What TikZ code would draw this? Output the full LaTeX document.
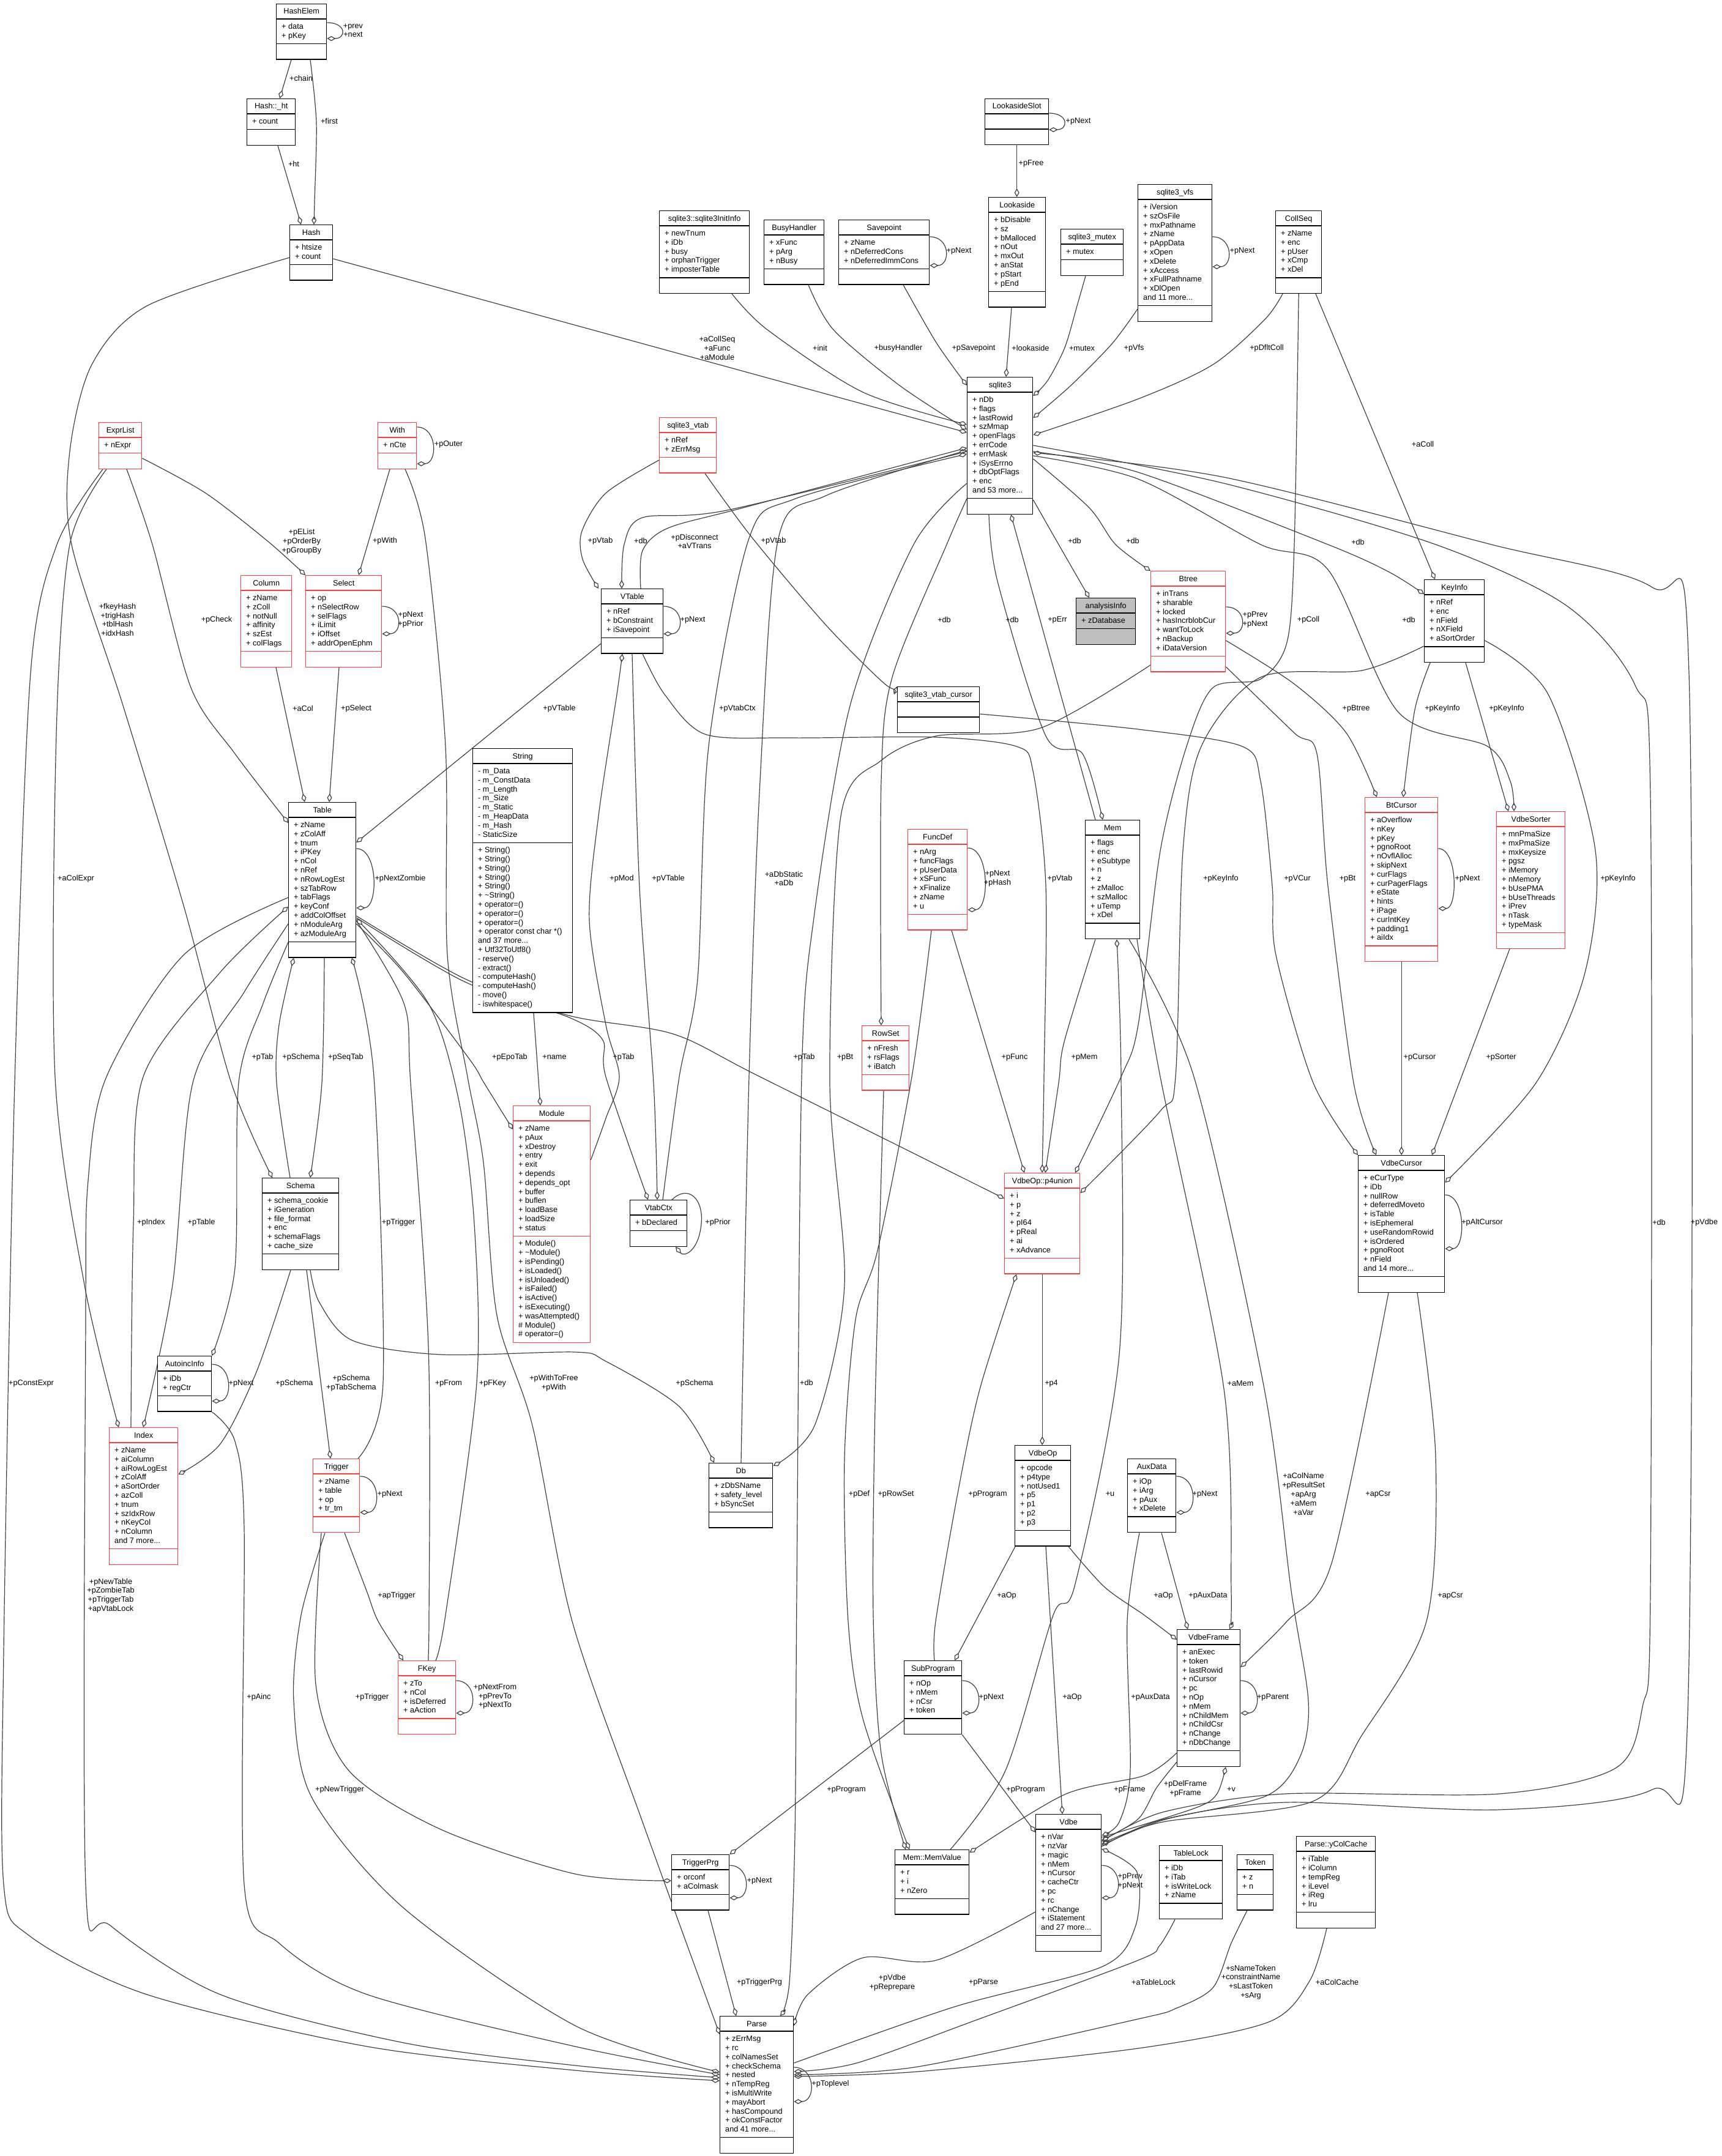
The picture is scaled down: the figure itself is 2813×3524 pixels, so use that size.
\documentclass[tikz,border=0pt]{standalone}
\usepackage{fontspec}
\setmainfont{Liberation Sans}
\usetikzlibrary{arrows.meta}

\definecolor{clsred}{RGB}{255,60,60}
\definecolor{edgecol}{RGB}{64,64,64}
\definecolor{infogray}{RGB}{191,191,191}
\newcommand{\fsz}{\fontsize{12.7}{14.8}\selectfont}

\pgfdeclarelayer{back}
\pgfdeclarelayer{edges}
\pgfsetlayers{back,edges,main}

\tikzset{
  classbox/.style={draw=black, line width=1.4pt, inner sep=0pt, fill=white},
  redbox/.style={draw=clsred, line width=1.4pt, inner sep=0pt, fill=white},
  greybox/.style={draw=black, line width=1.4pt, inner sep=0pt, fill=infogray},
  members/.style={align=left, inner sep=0pt, font=\fsz},
  lbl/.style={font=\fsz, align=center, inner sep=0pt},
  agg/.style={draw=edgecol, line width=1.2pt, -{Diamond[open, length=14pt, width=8pt]}},
}

% class box: [style]{name}{left}{top}{width}{title}{rows}{members}
\newcommand{\umlclass}[8][classbox]{%
  \pgfmathsetmacro{\attrh}{max(#7*14.8+10.8,25)}%
  \node[#1, anchor=north west, minimum width=#5pt, minimum height=50pt+\attrh pt] (#2) at (#3,#4) {};
  \draw[#1] ([yshift=-25pt]#2.north west) -- ([yshift=-25pt]#2.north east)
    ([yshift=-25pt-\attrh pt]#2.north west) -- ([yshift=-25pt-\attrh pt]#2.north east);
  \node[lbl, anchor=base] at ([yshift=-17pt]#2.north) {#6};
  \node[members, anchor=north west] at ([xshift=9pt,yshift=-31pt]#2.north west) {\strut #8};
}

\begin{document}
\begin{tikzpicture}[x=1pt,y=-1pt]
\useasboundingbox (0,0) rectangle (2813,3524);
\begin{pgfonlayer}{back}
  \fill[white] (0,0) rectangle (2813,3524);
\end{pgfonlayer}

% classes
\umlclass{hashelem}{451}{6}{82}{HashElem}{2}{+ data\\+ pKey}
\umlclass{hashht}{403}{161}{79}{Hash::\_ht}{1}{+ count}
\umlclass{hash}{473}{367}{70}{Hash}{2}{+ htsize\\+ count}
\umlclass[redbox]{exprlist}{161}{690}{70}{ExprList}{1}{+ nExpr}
\umlclass[redbox]{with}{617}{690}{63}{With}{1}{+ nCte}
\umlclass{initinfo}{1077}{344}{147}{sqlite3::sqlite3InitInfo}{5}{+ newTnum\\+ iDb\\+ busy\\+ orphanTrigger\\+ imposterTable}
\umlclass{busy}{1248}{359}{98}{BusyHandler}{3}{+ xFunc\\+ pArg\\+ nBusy}
\umlclass{savepoint}{1370}{359}{148}{Savepoint}{3}{+ zName\\+ nDeferredCons\\+ nDeferredImmCons}
\umlclass{lookslot}{1609}{161}{104}{LookasideSlot}{0}{}
\umlclass{lookaside}{1615}{322}{93}{Lookaside}{8}{+ bDisable\\+ sz\\+ bMalloced\\+ nOut\\+ mxOut\\+ anStat\\+ pStart\\+ pEnd}
\umlclass{mutex}{1733}{374}{102}{sqlite3\_mutex}{1}{+ mutex}
\umlclass{vfs}{1859}{301}{121}{sqlite3\_vfs}{11}{+ iVersion\\+ szOsFile\\+ mxPathname\\+ zName\\+ pAppData\\+ xOpen\\+ xDelete\\+ xAccess\\+ xFullPathname\\+ xDlOpen\\and 11 more...}
\umlclass{collseq}{2084}{344}{75}{CollSeq}{5}{+ zName\\+ enc\\+ pUser\\+ xCmp\\+ xDel}
\umlclass{sqlite3}{1580}{616}{107}{sqlite3}{11}{+ nDb\\+ flags\\+ lastRowid\\+ szMmap\\+ openFlags\\+ errCode\\+ errMask\\+ iSysErrno\\+ dbOptFlags\\+ enc\\and 53 more...}
\umlclass[redbox]{vtab}{1077}{682}{93}{sqlite3\_vtab}{2}{+ nRef\\+ zErrMsg}
\umlclass[redbox]{column}{393}{940}{83}{Column}{6}{+ zName\\+ zColl\\+ notNull\\+ affinity\\+ szEst\\+ colFlags}
\umlclass[redbox]{select}{499}{940}{124}{Select}{6}{+ op\\+ nSelectRow\\+ selFlags\\+ iLimit\\+ iOffset\\+ addrOpenEphm}
\umlclass{table}{471}{1311}{110}{Table}{13}{+ zName\\+ zColAff\\+ tnum\\+ iPKey\\+ nCol\\+ nRef\\+ nRowLogEst\\+ szTabRow\\+ tabFlags\\+ keyConf\\+ addColOffset\\+ nModuleArg\\+ azModuleArg}
\umlclass{vtable}{982}{962}{101}{VTable}{3}{+ nRef\\+ bConstraint\\+ iSavepoint}
\umlclass[greybox]{analysis}{1758}{977}{97}{analysisInfo}{1}{+ zDatabase}
\umlclass{vcursor}{1466}{1122}{134}{sqlite3\_vtab\_cursor}{0}{}
\umlclass[redbox]{funcdef}{1483}{1355}{97}{FuncDef}{7}{+ nArg\\+ funcFlags\\+ pUserData\\+ xSFunc\\+ xFinalize\\+ zName\\+ u}
\umlclass{mem}{1773}{1340}{89}{Mem}{9}{+ flags\\+ enc\\+ eSubtype\\+ n\\+ z\\+ zMalloc\\+ szMalloc\\+ uTemp\\+ xDel}
\umlclass[redbox]{rowset}{1408}{1676}{77}{RowSet}{3}{+ nFresh\\+ rsFlags\\+ iBatch}
\umlclass[redbox]{btree}{1880}{933}{122}{Btree}{7}{+ inTrans\\+ sharable\\+ locked\\+ hasIncrblobCur\\+ wantToLock\\+ nBackup\\+ iDataVersion}
\umlclass{keyinfo}{2327}{947}{98}{KeyInfo}{5}{+ nRef\\+ enc\\+ nField\\+ nXField\\+ aSortOrder}
\umlclass[redbox]{btcursor}{2230}{1303}{119}{BtCursor}{14}{+ aOverflow\\+ nKey\\+ pKey\\+ pgnoRoot\\+ nOvflAlloc\\+ skipNext\\+ curFlags\\+ curPagerFlags\\+ eState\\+ hints\\+ iPage\\+ curIntKey\\+ padding1\\+ aiIdx}
\umlclass[redbox]{sorter}{2445}{1326}{112}{VdbeSorter}{11}{+ mnPmaSize\\+ mxPmaSize\\+ mxKeysize\\+ pgsz\\+ iMemory\\+ nMemory\\+ bUsePMA\\+ bUseThreads\\+ iPrev\\+ nTask\\+ typeMask}
\umlclass{schema}{428}{1925}{125}{Schema}{6}{+ schema\_cookie\\+ iGeneration\\+ file\_format\\+ enc\\+ schemaFlags\\+ cache\_size}
\umlclass{autoinc}{257}{2216}{88}{AutoincInfo}{2}{+ iDb\\+ regCtr}
\umlclass[redbox]{index}{178}{2333}{112}{Index}{11}{+ zName\\+ aiColumn\\+ aiRowLogEst\\+ zColAff\\+ aSortOrder\\+ azColl\\+ tnum\\+ szIdxRow\\+ nKeyCol\\+ nColumn\\and 7 more...}
\umlclass[redbox]{trigger}{511}{2384}{76}{Trigger}{4}{+ zName\\+ table\\+ op\\+ tr\_tm}
\umlclass{vtabctx}{1029}{1961}{93}{VtabCtx}{1}{+ bDeclared}
\umlclass[redbox]{p4union}{1641}{1917}{123}{VdbeOp::p4union}{7}{+ i\\+ p\\+ z\\+ pI64\\+ pReal\\+ ai\\+ xAdvance}
\umlclass{db}{1158}{2391}{104}{Db}{3}{+ zDbSName\\+ safety\_level\\+ bSyncSet}
\umlclass{vdbeop}{1658}{2362}{91}{VdbeOp}{7}{+ opcode\\+ p4type\\+ notUsed1\\+ p5\\+ p1\\+ p2\\+ p3}
\umlclass{auxdata}{1842}{2384}{79}{AuxData}{4}{+ iOp\\+ iArg\\+ pAux\\+ xDelete}
\umlclass{vdbecursor}{2219}{1888}{141}{VdbeCursor}{11}{+ eCurType\\+ iDb\\+ nullRow\\+ deferredMoveto\\+ isTable\\+ isEphemeral\\+ useRandomRowid\\+ isOrdered\\+ pgnoRoot\\+ nField\\and 14 more...}
\umlclass[redbox]{fkey}{650}{2714}{94}{FKey}{4}{+ zTo\\+ nCol\\+ isDeferred\\+ aAction}
\umlclass{subprogram}{1477}{2714}{94}{SubProgram}{4}{+ nOp\\+ nMem\\+ nCsr\\+ token}
\umlclass{triggerprg}{1097}{3031}{94}{TriggerPrg}{2}{+ orconf\\+ aColmask}
\umlclass{memvalue}{1462}{3023}{121}{Mem::MemValue}{3}{+ r\\+ i\\+ nZero}
\umlclass{vdbe}{1692}{2965}{107}{Vdbe}{11}{+ nVar\\+ nzVar\\+ magic\\+ nMem\\+ nCursor\\+ cacheCtr\\+ pc\\+ rc\\+ nChange\\+ iStatement\\and 27 more...}
\umlclass{parse}{1176}{3295}{120}{Parse}{11}{+ zErrMsg\\+ rc\\+ colNamesSet\\+ checkSchema\\+ nested\\+ nTempReg\\+ isMultiWrite\\+ mayAbort\\+ hasCompound\\+ okConstFactor\\and 41 more...}
\umlclass{vdbeframe}{1923}{2663}{103}{VdbeFrame}{11}{+ anExec\\+ token\\+ lastRowid\\+ nCursor\\+ pc\\+ nOp\\+ nMem\\+ nChildMem\\+ nChildCsr\\+ nChange\\+ nDbChange}
\umlclass{tablelock}{1894}{3016}{103}{TableLock}{4}{+ iDb\\+ iTab\\+ isWriteLock\\+ zName}
\umlclass{token}{2021}{3031}{59}{Token}{2}{+ z\\+ n}
\umlclass{ycolcache}{2118}{3001}{129}{Parse::yColCache}{6}{+ iTable\\+ iColumn\\+ tempReg\\+ iLevel\\+ iReg\\+ lru}

% String and Module have a method part as well
\node[classbox, anchor=north west, minimum width=163pt, minimum height=431.4pt] (string) at (772,1223) {};
\draw[classbox] ([yshift=-25pt]string.north west) -- ([yshift=-25pt]string.north east)
  ([yshift=-154.2pt]string.north west) -- ([yshift=-154.2pt]string.north east);
\node[lbl, anchor=base] at ([yshift=-17pt]string.north) {String};
\node[members, anchor=north west] at ([xshift=9pt,yshift=-31pt]string.north west)
  {\strut- m\_Data\\- m\_ConstData\\- m\_Length\\- m\_Size\\- m\_Static\\- m\_HeapData\\- m\_Hash\\- StaticSize};
\node[members, anchor=north west] at ([xshift=9pt,yshift=-160.2pt]string.north west)
  {\strut+ String()\\+ String()\\+ String()\\+ String()\\+ String()\\+ \textasciitilde String()\\+ operator=()\\+ operator=()\\+ operator=()\\+ operator const char *()\\and 37 more...\\+ Utf32ToUtf8()\\- reserve()\\- extract()\\- computeHash()\\- computeHash()\\- move()\\- iswhitespace()};

\node[redbox, anchor=north west, minimum width=126pt, minimum height=387pt] (module) at (838,1807) {};
\draw[redbox] ([yshift=-25pt]module.north west) -- ([yshift=-25pt]module.north east)
  ([yshift=-213.4pt]module.north west) -- ([yshift=-213.4pt]module.north east);
\node[lbl, anchor=base] at ([yshift=-17pt]module.north) {Module};
\node[members, anchor=north west] at ([xshift=9pt,yshift=-31pt]module.north west)
  {\strut+ zName\\+ pAux\\+ xDestroy\\+ entry\\+ exit\\+ depends\\+ depends\_opt\\+ buffer\\+ buflen\\+ loadBase\\+ loadSize\\+ status};
\node[members, anchor=north west] at ([xshift=9pt,yshift=-219.4pt]module.north west)
  {\strut+ Module()\\+ \textasciitilde Module()\\+ isPending()\\+ isLoaded()\\+ isUnloaded()\\+ isFailed()\\+ isActive()\\+ isExecuting()\\+ wasAttempted()\\\# Module()\\\# operator=()};

\begin{pgfonlayer}{edges}
% hash tables
\draw[agg] (hashelem.east |- 0,37) .. controls +(32,0) and +(32,0) .. (hashelem.east |- 0,63) node[lbl] at (577,50) {+prev\\+next};
\draw[agg] (hashelem.south -| 476,0) -- (hashht.north -| 457,0) node[lbl] at (492,128) {+chain};
\draw[agg] plot[smooth] coordinates {(hashelem.south -| 507,0) (517,200) (514,330) (hash.north -| 513,0)} node[lbl] at (538,198) {+first};
\draw[agg] (hashht.south -| 454,0) -- (hash.north -| 492,0) node[lbl] at (480,268) {+ht};

% into sqlite3
\draw[agg] (lookslot.east |- 0,185) .. controls +(32,0) and +(32,0) .. (lookslot.east |- 0,212) node[lbl] at (1762,198) {+pNext};
\draw[agg] (lookslot.south) -- (lookaside.north -| lookslot.south) node[lbl] at (1685,267) {+pFree};
\draw[agg] (savepoint.east |- 0,387) .. controls +(34,0) and +(34,0) .. (savepoint.east |- 0,434) node[lbl] at (1567,410) {+pNext};
\draw[agg] (vfs.east |- 0,387) .. controls +(34,0) and +(34,0) .. (vfs.east |- 0,436) node[lbl] at (2030,410) {+pNext};
\draw[agg] (hash.east |- 0,423) -- (sqlite3.west |- 0,707) node[lbl] at (1172,569) {+aCollSeq\\+aFunc\\+aModule};
\draw[agg] plot[smooth] coordinates {(initinfo.south -| 1196,0) (1254,539) (1410,641) (sqlite3.west |- 0,694)} node[lbl] at (1340,569) {+init};
\draw[agg] plot[smooth] coordinates {(busy.south -| 1321,0) (1362,539) (1470,630) (sqlite3.west |- 0,702)} node[lbl] at (1468,569) {+busyHandler};
\draw[agg] plot[smooth] coordinates {(savepoint.south -| 1476,0) (1530,560) (sqlite3.west |- 0,630)} node[lbl] at (1591,569) {+pSavepoint};
\draw[agg] (lookaside.south -| 1653,0) -- (sqlite3.north -| 1644,0) node[lbl] at (1684,569) {+lookaside};
\draw[agg] plot[smooth] coordinates {(mutex.south -| 1774,0) (1760,500) (1740,568) (1712,622) (sqlite3.east |- 0,647)} node[lbl] at (1768,569) {+mutex};
\draw[agg] plot[smooth] coordinates {(vfs.west |- 0,505) (1817,562) (1750,630) (sqlite3.east |- 0,683)} node[lbl] at (1853,569) {+pVfs};
\draw[agg] plot[smooth] coordinates {(collseq.south -| 2096,0) (2067,522) (1982,596) (1860,652) (sqlite3.east |- 0,711)} node[lbl] at (2070,569) {+pDfltColl};
\draw[agg] (collseq.south -| 2150,0) -- (keyinfo.north -| 2345,0) node[lbl] at (2325,726) {+aColl};

% out of sqlite3
\draw[agg] plot[smooth] coordinates {(sqlite3.east |- 0,750) (1780,830) (1823,890) (btree.north west)} node[lbl] at (1851,884) {+db};
\draw[agg] plot[smooth] coordinates {(sqlite3.east |- 0,817) (1730,890) (analysis.north -| 1780,0)} node[lbl] at (1756,884) {+db};
\draw[agg] plot[smooth] coordinates {(sqlite3.east |- 0,738) (1860,772) (2170,890) (2270,935) (keyinfo.west |- 0,971)} node[lbl] at (2302,1013) {+db};
\draw[agg] plot[smooth] coordinates {(sqlite3.east |- 0,745) (1860,783) (2060,890) (2170,931) (2285,1164) (2431,1220) (2468,1277) (sorter.north -| 2474,0)} node[lbl] at (2219,886) {+db};
\draw[agg] plot[smooth] coordinates {(sqlite3.east |- 0,728) (2000,790) (2346,890) (2560,990) (2672,1120) (2697,1300) (2697,2600) (2684,2790) (2640,2890) (2450,2932) (2100,2932) (1900,2962) (vdbe.east |- 0,3010)} node[lbl] at (2711,1998) {+db};
\draw[agg] plot[smooth] coordinates {(vdbe.east |- 0,3018) (1900,2974) (2100,2946) (2450,2958) (2700,2925) (2758,2800) (2760,1100) (2700,960) (2437,890) (2000,780) (sqlite3.east |- 0,740)} node[lbl] at (2785,1998) {+pVdbe};
\draw[agg] (mem.north -| 1790,0) -- (sqlite3.south -| 1652,0) node[lbl] at (1728,1013) {+pErr};
\draw[agg] plot[smooth] coordinates {(sqlite3.south -| 1616,0) (1630,950) (1709,1203) (1769,1232) (mem.north -| 1802,0)} node[lbl] at (1654,1013) {+db};
\draw[agg] plot[smooth] coordinates {(sqlite3.west |- 0,815) (1547,890) (1458,1107) (1440,1277) (rowset.north -| 1440,0)} node[lbl] at (1543,1013) {+db};
\draw[agg] plot[smooth] coordinates {(sqlite3.west |- 0,790) (1493,890) (1390,1150) (1330,1500) (1310,1760) (1302,2600) (1299,3000) (1290,3240) (parse.north -| 1275,0)} node[lbl] at (1318,2260) {+db};

% virtual tables
\draw[agg] plot[smooth] coordinates {(vtab.west |- 0,752) (990,806) (951,868) (952,914) (vtable.north -| 978,0)} node[lbl] at (981,884) {+pVtab};
\draw[agg] plot[smooth] coordinates {(sqlite3.west |- 0,738) (1188,834) (1050,846) (1020,890) (vtable.north -| 1016,0)} node[lbl] at (1047,884) {+db};
\draw[agg] plot[smooth] coordinates {(vtable.north -| 1047,0) (1050,900) (1092,863) (1218,829) (sqlite3.west |- 0,732)} node[lbl] at (1135,885) {+pDisconnect\\+aVTrans};
\draw[agg] (vtable.east |- 0,991) .. controls +(34,0) and +(34,0) .. (vtable.east |- 0,1036) node[lbl] at (1132,1013) {+pNext};
\draw[agg] (vtable.west |- 0,1052) -- (table.east |- 0,1377) node[lbl] at (914,1158) {+pVTable};
\draw[agg] plot[smooth] coordinates {(vtable.south -| 1033,0) (1045,1450) (1068,1770) (vtabctx.north -| 1074,0)} node[lbl] at (1092,1436) {+pVTable};
\draw[agg] plot[smooth] coordinates {(module.east |- 0,1896) (990,1828) (1012,1760) (990,1675) (963,1504) (978,1334) (1008,1135) (vtable.south -| 1017,0)} node[lbl] at (1016,1436) {+pMod};
\draw[agg] plot[smooth] coordinates {(table.east |- 0,1500) (760,1605) (930,1663) (985,1700) (990,1760) (vtabctx.north -| 1059,0)} node[lbl] at (1019,1728) {+pTab};
\draw[agg] plot[smooth] coordinates {(table.east |- 0,1497) (760,1600) (930,1660) (1100,1690) (1242,1760) (p4union.west |- 0,1959)} node[lbl] at (1314,1728) {+pTab};
\draw[agg] (vtabctx.north -| 1098,0) .. controls (1125,1935) and (1150,1960) .. (1146,2000) .. controls (1142,2045) and (1118,2055) .. (vtabctx.south -| 1104,0) node[lbl] at (1173,1998) {+pPrior};
\draw[agg] plot[smooth] coordinates {(vtabctx.north -| 1083,0) (1110,1760) (1140,1600) (1158,1220) (1224,880) (1300,815) (sqlite3.west |- 0,742)} node[lbl] at (1205,1158) {+pVtabCtx};
\draw[agg] plot[smooth] coordinates {(db.north -| 1211,0) (1224,1760) (1242,1277) (1272,880) (1350,810) (sqlite3.west |- 0,736)} node[lbl] at (1281,1436) {+aDbStatic\\+aDb};
\draw[agg] plot[smooth] coordinates {(vtab.south -| 1152,0) (1230,880) (1350,1022) (1446,1118) (vcursor.north west)} node[lbl] at (1264,884) {+pVtab};

% cursors and keys
\draw[agg] plot[smooth] coordinates {(vcursor.east |- 0,1167) (1860,1192) (2030,1220) (2060,1277) (2079,1448) (2085,1561) (2146,1770) (vdbecursor.north west)} node[lbl] at (2120,1436) {+pVCur};
\draw[agg] (btcursor.south) -- (vdbecursor.north -| btcursor.south) node[lbl] at (2320,1728) {+pCursor};
\draw[agg] (sorter.south -| 2467,0) -- (vdbecursor.north -| 2340,0) node[lbl] at (2453,1728) {+pSorter};
\draw[agg] plot[smooth] coordinates {(keyinfo.south -| 2337,0) (2312,1160) (btcursor.north -| 2293,0)} node[lbl] at (2357,1158) {+pKeyInfo};
\draw[agg] (keyinfo.south -| 2395,0) -- (sorter.north -| 2465,0) node[lbl] at (2462,1158) {+pKeyInfo};
\draw[agg] plot[smooth] coordinates {(keyinfo.west |- 0,1056) (2225,1096) (2060,1107) (1963,1220) (1933,1391) (1921,1760) (1896,1816) (p4union.east |- 0,1950)} node[lbl] at (1995,1436) {+pKeyInfo};
\draw[agg] plot[smooth] coordinates {(keyinfo.east |- 0,1047) (2530,1135) (2607,1390) (2590,1590) (2510,1770) (vdbecursor.east |- 0,1933)} node[lbl] at (2644,1436) {+pKeyInfo};
\draw[agg] plot[smooth] coordinates {(collseq.south) (2115,890) (2103,1050) (2060,1110) (1982,1124) (1939,1220) (1896,1391) (1860,1675) (1832,1760) (p4union.north -| 1757,0)} node[lbl] at (2138,1013) {+pColl};
\draw[agg] (btcursor.east |- 0,1387) .. controls +(32,0) and +(32,0) .. (btcursor.east |- 0,1485) node[lbl] at (2398,1436) {+pNext};
\draw[agg] (btree.east |- 0,992) .. controls +(34,0) and +(34,0) .. (btree.east |- 0,1035) node[lbl] at (2051,1013) {+pPrev\\+pNext};
\draw[agg] plot[smooth] coordinates {(btree.east |- 0,1047) (2115,1118) (2200,1198) (btcursor.north -| 2250,0)} node[lbl] at (2216,1158) {+pBtree};
\draw[agg] plot[smooth] coordinates {(btree.east |- 0,1090) (2115,1198) (2152,1232) (2170,1448) (2212,1770) (vdbecursor.north -| 2249,0)} node[lbl] at (2202,1436) {+pBt};
\draw[agg] plot[smooth] coordinates {(btree.west |- 0,1087) (1700,1190) (1530,1203) (1440,1243) (1374,1334) (1356,1770) (1380,2100) (1332,2328) (db.east |- 0,2396)} node[lbl] at (1381,1728) {+pBt};
\draw[agg] (vdbecursor.east |- 0,1953) .. controls +(34,0) and +(34,0) .. (vdbecursor.east |- 0,2041) node[lbl] at (2422,1998) {+pAltCursor};
\draw[agg] plot[smooth] coordinates {(vdbecursor.south -| 2269,0) (2176,2555) (2103,2650) (vdbeframe.east |- 0,2725)} node[lbl] at (2252,2442) {+apCsr};
\draw[agg] plot[smooth] coordinates {(vdbecursor.south -| 2316,0) (2346,2380) (2331,2650) (2225,2837) (2146,2944) (1900,2978) (vdbe.east |- 0,3014)} node[lbl] at (2370,2608) {+apCsr};

% Mem, FuncDef, p4union
\draw[agg] plot[smooth] coordinates {(mem.south -| 1845,0) (1951,1760) (2066,2270) (2110,2600) (2138,2780) (2125,2870) (2070,2935) (1900,2975) (vdbe.east |- 0,3016)} node[lbl] at (2130,2442) {+aColName\\+pResultSet\\+apArg\\+aMem\\+aVar};
\draw[agg] plot[smooth] coordinates {(mem.south -| 1858,0) (1896,1760) (2000,2270) (2012,2600) (vdbeframe.north -| 2009,0)} node[lbl] at (2027,2261) {+aMem};
\draw[agg] plot[smooth] coordinates {(mem.south -| 1790,0) (1739,1703) (1730,1770) (p4union.north -| 1708,0)} node[lbl] at (1772,1728) {+pMem};
\draw[agg] plot[smooth] coordinates {(vtable.south -| 1050,0) (1086,1135) (1152,1200) (1290,1206) (1530,1205) (1661,1220) (1688,1260) (1709,1448) (1706,1760) (p4union.north -| 1703,0)} node[lbl] at (1732,1436) {+pVtab};
\draw[agg] (funcdef.south -| 1555,0) -- (p4union.north -| 1674,0) node[lbl] at (1658,1728) {+pFunc};
\draw[agg] (funcdef.east |- 0,1386) .. controls +(36,0) and +(36,0) .. (funcdef.east |- 0,1487) node[lbl] at (1630,1436) {+pNext\\+pHash};
\draw[agg] plot[smooth] coordinates {(funcdef.south -| 1522,0) (1490,1760) (1434,2044) (1398,2157) (1380,2384) (1386,2650) (1410,2809) (memvalue.north -| 1486,0)} node[lbl] at (1404,2442) {+pDef};
\draw[agg] plot[smooth] coordinates {(rowset.south -| 1444,0) (1430,2300) (1427,2640) (1440,2866) (memvalue.north -| 1480,0)} node[lbl] at (1464,2442) {+pRowSet};
\draw[agg] plot[smooth] coordinates {(memvalue.north -| 1553,0) (1643,2894) (1721,2640) (1757,2589) (1829,2214) (1832,1760) (mem.south -| 1825,0)} node[lbl] at (1814,2442) {+u};
\draw[agg] (p4union.south) -- (vdbeop.north -| p4union.south) node[lbl] at (1718,2261) {+p4};
\draw[agg] plot[smooth] coordinates {(subprogram.north -| 1527,0) (1529,2650) (1565,2441) (1601,2271) (p4union.south -| 1661,0)} node[lbl] at (1614,2442) {+pProgram};

% Vdbe, frames, sub programs
\draw[agg] plot[smooth] coordinates {(vdbeframe.west |- 0,2865) (1870,2902) (1740,2933) (memvalue.east |- 0,3028)} node[lbl] at (1846,2925) {+pFrame};
\draw[agg] plot[smooth] coordinates {(vdbeframe.west |- 0,2880) (1890,2922) (1860,2973) (vdbe.east |- 0,3008)} node[lbl] at (1937,2924) {+pDelFrame\\+pFrame};
\draw[agg] plot[smooth] coordinates {(vdbe.east |- 0,3003) (1951,2956) (1988,2933) (vdbeframe.south -| 2003,0)} node[lbl] at (2012,2925) {+v};
\draw[agg] (vdbeframe.east |- 0,2747) .. controls +(34,0) and +(34,0) .. (vdbeframe.east |- 0,2800) node[lbl] at (2080,2774) {+pParent};
\draw[agg] plot[smooth] coordinates {(vdbeop.south -| 1746,0) (1805,2594) (1870,2640) (vdbeframe.west |- 0,2680)} node[lbl] at (1901,2608) {+aOp};
\draw[agg] (auxdata.south -| 1898,0) -- (vdbeframe.north -| 1941,0) node[lbl] at (1974,2608) {+pAuxData};
\draw[agg] (auxdata.east |- 0,2413) .. controls +(34,0) and +(34,0) .. (auxdata.east |- 0,2472) node[lbl] at (1969,2442) {+pNext};
\draw[agg] plot[smooth] coordinates {(auxdata.south -| 1862,0) (1842,2650) (1847,2894) (1829,2978) (vdbe.east |- 0,3000)} node[lbl] at (1880,2774) {+pAuxData};
\draw[agg] (vdbeop.south -| 1709,0) -- (vdbe.north -| 1736,0) node[lbl] at (1752,2774) {+aOp};
\draw[agg] (vdbeop.south -| 1659,0) -- (subprogram.north -| 1560,0) node[lbl] at (1645,2608) {+aOp};
\draw[agg] (subprogram.east |- 0,2747) .. controls +(34,0) and +(34,0) .. (subprogram.east |- 0,2800) node[lbl] at (1620,2774) {+pNext};
\draw[agg] (subprogram.west |- 0,2812) -- (triggerprg.north east) node[lbl] at (1383,2925) {+pProgram};
\draw[agg] (subprogram.south east) -- (vdbe.west |- 0,2995) node[lbl] at (1676,2925) {+pProgram};
\draw[agg] (vdbe.east |- 0,3049) .. controls +(34,0) and +(34,0) .. (vdbe.east |- 0,3102) node[lbl] at (1847,3075) {+pPrev\\+pNext};
\draw[agg] (triggerprg.east |- 0,3049) .. controls +(34,0) and +(34,0) .. (triggerprg.east |- 0,3102) node[lbl] at (1241,3074) {+pNext};
\draw[agg] plot[smooth] coordinates {(trigger.south -| 525,0) (516,2753) (570,2894) (720,2990) (940,3063) (triggerprg.west |- 0,3074)} node[lbl] at (608,2774) {+pTrigger};

% into Parse
\draw[agg] (triggerprg.south -| 1157,0) -- (parse.north -| 1203,0) node[lbl] at (1241,3240) {+pTriggerPrg};
\draw[agg] plot[smooth] coordinates {(vdbe.west |- 0,3125) (1530,3204) (1410,3200) (1320,3260) (parse.east |- 0,3311)} node[lbl] at (1458,3241) {+pVdbe\\+pReprepare};
\draw[agg] plot[smooth] coordinates {(parse.east |- 0,3372) (1560,3280) (1800,3215) (1855,3150) (1858,3060) (vdbe.east |- 0,3022)} node[lbl] at (1607,3240) {+pParse};
\draw[agg] (parse.east |- 0,3379) .. controls +(36,0) and +(36,0) .. (parse.east |- 0,3435) node[lbl] at (1357,3406) {+pToplevel};
\draw[agg] plot[smooth] coordinates {(tablelock.south -| 1920,0) (1895,3180) (1860,3204) (1600,3300) (1400,3372) (parse.east |- 0,3386)} node[lbl] at (1885,3240) {+aTableLock};
\draw[agg] plot[smooth] coordinates {(token.south -| 2038,0) (2012,3176) (1982,3249) (1921,3283) (1860,3300) (1500,3378) (parse.east |- 0,3391)} node[lbl] at (2044,3240) {+sNameToken\\+constraintName\\+sLastToken\\+sArg};
\draw[agg] plot[smooth] coordinates {(ycolcache.south -| 2168,0) (2140,3238) (2073,3305) (1860,3348) (1500,3386) (parse.east |- 0,3394)} node[lbl] at (2185,3240) {+aColCache};

% left side: tables, indexes, triggers
\draw[agg] (with.east |- 0,698) .. controls +(34,0) and +(34,0) .. (with.east |- 0,758) node[lbl] at (733,726) {+pOuter};
\draw[agg] (with.south -| 637,0) -- (select.north -| 586,0) node[lbl] at (629,884) {+pWith};
\draw[agg] plot[smooth] coordinates {(exprlist.east |- 0,749) (336,806) (438,885) (select.north west)} node[lbl] at (493,885) {+pEList\\+pOrderBy\\+pGroupBy};
\draw[agg] (select.east |- 0,991) .. controls +(34,0) and +(34,0) .. (select.east |- 0,1036) node[lbl] at (671,1013) {+pNext\\+pPrior};
\draw[agg] (column.south -| 451,0) -- (table.north -| 498,0) node[lbl] at (495,1158) {+aCol};
\draw[agg] (select.south -| 554,0) -- (table.north -| 538,0) node[lbl] at (582,1158) {+pSelect};
\draw[agg] plot[smooth] coordinates {(exprlist.south -| 207,0) (249,890) (312,1124) (384,1232) (table.west |- 0,1345)} node[lbl] at (354,1013) {+pCheck};
\draw[agg] (table.east |- 0,1387) .. controls +(36,0) and +(36,0) .. (table.east |- 0,1484) node[lbl] at (654,1436) {+pNextZombie};
\draw[agg] (string.south -| 872,0) -- (module.north -| 883,0) node[lbl] at (906,1728) {+name};
\draw[agg] plot[smooth] coordinates {(table.east |- 0,1510) (659,1589) (767,1731) (791,1770) (module.west |- 0,1846)} node[lbl] at (833,1728) {+pEpoTab};
\draw[agg] plot[smooth] coordinates {(hash.west |- 0,421) (240,500) (150,596) (114,738) (117,890) (200,1150) (300,1480) (378,1770) (schema.north -| 445,0)} node[lbl] at (192,1013) {+fkeyHash\\+trigHash\\+tblHash\\+idxHash};
\draw[agg] plot[smooth] coordinates {(exprlist.south -| 174,0) (114,890) (92,1200) (90,1760) (138,2100) (index.north -| 194,0)} node[lbl] at (124,1436) {+aColExpr};
\draw[agg] plot[smooth] coordinates {(exprlist.south -| 168,0) (93,890) (50,1100) (24,1770) (6,2700) (6,3080) (48,3164) (240,3260) (600,3345) (940,3384) (parse.west |- 0,3401)} node[lbl] at (51,2261) {+pConstExpr};
\draw[agg] plot[smooth] coordinates {(table.west |- 0,1467) (300,1561) (174,1760) (144,1930) (140,2157) (140,3080) (180,3147) (360,3260) (660,3339) (940,3376) (parse.west |- 0,3396)} node[lbl] at (181,2608) {+pNewTable\\+pZombieTab\\+pTriggerTab\\+apVtabLock};
\draw[agg] plot[smooth] coordinates {(index.north -| 214,0) (218,2000) (234,1760) (360,1589) (table.west |- 0,1482)} node[lbl] at (247,1998) {+pIndex};
\draw[agg] plot[smooth] coordinates {(table.west |- 0,1510) (400,1620) (315,1770) (282,2100) (index.north -| 234,0)} node[lbl] at (329,1998) {+pTable};
\draw[agg] plot[smooth] coordinates {(table.west |- 0,1540) (430,1640) (390,1770) (384,2072) (autoinc.north east)} node[lbl] at (429,1728) {+pTab};
\draw[agg] (autoinc.east |- 0,2230) .. controls +(34,0) and +(34,0) .. (autoinc.east |- 0,2290) node[lbl] at (394,2261) {+pNext};
\draw[agg] plot[smooth] coordinates {(autoinc.south east) (384,2356) (399,2498) (399,3080) (456,3176) (600,3260) (940,3345) (parse.west |- 0,3391)} node[lbl] at (423,2774) {+pAinc};
\draw[agg] plot[smooth] coordinates {(schema.north -| 474,0) (452,1770) (456,1675) (table.south -| 480,0)} node[lbl] at (492,1728) {+pSchema};
\draw[agg] plot[smooth] coordinates {(table.south -| 530,0) (526,1770) (schema.north -| 507,0)} node[lbl] at (565,1728) {+pSeqTab};
\draw[agg] plot[smooth] coordinates {(schema.south -| 475,0) (420,2240) (360,2360) (index.east |- 0,2410)} node[lbl] at (481,2261) {+pSchema};
\draw[agg] (schema.south -| 501,0) -- (trigger.north -| 540,0) node[lbl] at (574,2261) {+pSchema\\+pTabSchema};
\draw[agg] plot[smooth] coordinates {(schema.south -| 507,0) (522,2129) (576,2191) (719,2214) (940,2210) (990,2225) (1110,2299) (db.north -| 1167,0)} node[lbl] at (1135,2261) {+pSchema};
\draw[agg] plot[smooth] coordinates {(trigger.north -| 585,0) (626,2260) (611,1760) (table.south -| 575,0)} node[lbl] at (651,1998) {+pTrigger};
\draw[agg] (trigger.east |- 0,2413) .. controls +(34,0) and +(34,0) .. (trigger.east |- 0,2472) node[lbl] at (637,2442) {+pNext};
\draw[agg] plot[smooth] coordinates {(trigger.south -| 563,0) (599,2600) (618,2650) (fkey.north -| 659,0)} node[lbl] at (648,2608) {+apTrigger};
\draw[agg] (fkey.east |- 0,2747) .. controls +(34,0) and +(34,0) .. (fkey.east |- 0,2800) node[lbl] at (809,2773) {+pNextFrom\\+pPrevTo\\+pNextTo};
\draw[agg] plot[smooth] coordinates {(fkey.north -| 712,0) (728,2640) (779,2260) (775,2000) (750,1800) (700,1640) (table.east |- 0,1502)} node[lbl] at (805,2261) {+pFKey};
\draw[agg] plot[smooth] coordinates {(table.east |- 0,1505) (660,1640) (671,1770) (700,2200) (701,2650) (fkey.north -| 698,0)} node[lbl] at (733,2261) {+pFrom};
\draw[agg] plot[smooth] coordinates {(with.south -| 662,0) (695,880) (728,1220) (731,1560) (764,1760) (790,1900) (812,2150) (870,2330) (935,2650) (1050,2978) (parse.west |- 0,3325)} node[lbl] at (905,2261) {+pWithToFree\\+pWith};
\draw[agg] plot[smooth] coordinates {(trigger.south -| 531,0) (492,2640) (480,2781) (510,2939) (660,3119) (940,3311) (parse.west |- 0,3387)} node[lbl] at (555,2925) {+pNewTrigger};
\end{pgfonlayer}
\end{tikzpicture}
\end{document}
